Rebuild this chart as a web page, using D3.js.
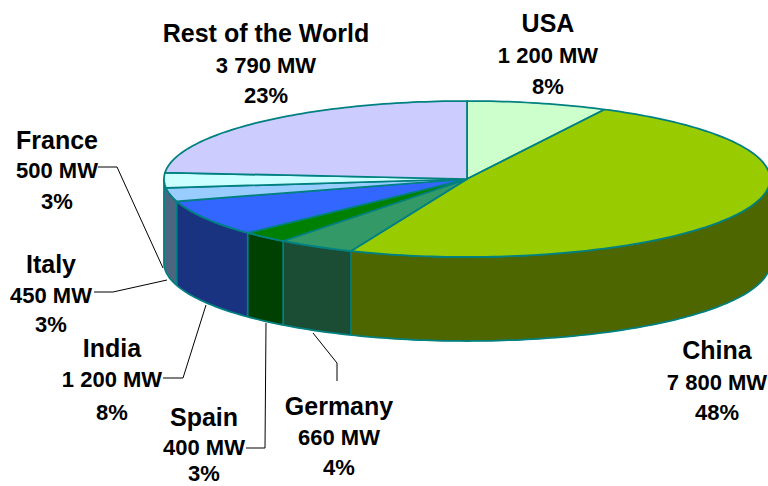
<!DOCTYPE html>
<html lang="en">
<head>
<meta charset="utf-8">
<title>Installed wind power by country</title>
<script src="https://cdn.jsdelivr.net/npm/d3@7"></script>
<style>
  html, body { margin: 0; padding: 0; background: #fff; overflow: hidden; }
  svg { display: block; }
  text { font-family: "Liberation Sans", Arial, sans-serif; font-weight: bold; fill: #000; text-anchor: middle; }
</style>
</head>
<body>
<script>
// data
var countries = ["USA", "China", "Germany", "Spain", "India", "Italy", "France", "Rest of the World"];
var megawatts = [1200, 7800, 660, 400, 1200, 450, 500, 3790];
var mwLabels = ["1 200 MW", "7 800 MW", "660 MW", "400 MW", "1 200 MW", "450 MW", "500 MW", "3 790 MW"];
var percents = ["8%", "48%", "4%", "3%", "8%", "3%", "3%", "23%"];

// colours
var topColors = ["#ccffcc", "#99cc00", "#339966", "#008000", "#3366ff", "#99ccff", "#ccffff", "#ccccff"];
var sideColors = ["#668066", "#4d6600", "#1a4d33", "#004000", "#1a3380", "#4d6680", "#4d6680", "#666680"];

// label layout: centre x, then baseline y of the three lines
var labelPos = [
  [548, 32, 63, 94],
  [717, 359, 390, 420],
  [339, 415, 445, 475],
  [204, 426, 455, 481],
  [112, 357, 387, 420],
  [51, 273, 303, 332],
  [57, 149, 178, 209],
  [266, 42, 73, 103]
];
var leaders = [
  [[98, 167], [117, 167], [163, 268]],
  [[94, 292], [113, 292], [167, 280]],
  [[163, 378], [183, 378], [206, 305]],
  [[246, 448], [265, 448], [266, 323]],
  [[337, 381], [337, 363], [313, 333]]
];

var width = 768, height = 486;
var cx = 467, cy = 179, rx = 303, ry = 78, depth = 84;
var edge = "#008080", edgeWidth = 1.75;

var x = d3.scaleLinear().domain([-1, 1]).range([cx - rx, cx + rx]);
var y = d3.scaleLinear().domain([-1, 1]).range([cy - ry, cy + ry]);

var svg = d3.select("body").append("svg")
  .attr("width", width)
  .attr("height", height);

var slices = d3.pie().sort(null).value(function(d) { return d; })(megawatts);

function rim(angle) {
  return [x(Math.sin(angle)), y(-Math.cos(angle))];
}

function arcPoints(a0, a1) {
  var n = Math.max(2, Math.ceil((a1 - a0) / 0.02));
  return d3.range(n + 1).map(function(i) { return rim(a0 + (a1 - a0) * i / n); });
}

function wallShape(a0, a1) {
  var upper = arcPoints(a0, a1);
  var lower = upper.map(function(p) { return [p[0], p[1] + depth]; }).reverse();
  return upper.concat(lower);
}

var line = d3.line();
var frontStart = Math.PI / 2, frontEnd = Math.PI * 1.5;

// side walls, only the front half of the rim can be seen
var walls = svg.append("g");
slices.forEach(function(s, i) {
  var a0 = Math.max(s.startAngle, frontStart);
  var a1 = Math.min(s.endAngle, frontEnd);
  if (a1 <= a0) return;
  walls.append("path")
    .attr("d", line(wallShape(a0, a1)) + "Z")
    .attr("fill", sideColors[i])
    .attr("stroke", sideColors[i])
    .attr("stroke-width", 0.5);
  // very thin walls get no divider, it would cover them
  if (a1 - a0 >= 0.15 && a0 > frontStart) {
    var p = rim(a0);
    walls.append("path")
      .attr("d", line([p, [p[0], p[1] + depth]]))
      .attr("stroke", edge)
      .attr("stroke-width", edgeWidth);
  }
});

// outline round the whole front
walls.append("path")
  .attr("d", line(wallShape(frontStart, frontEnd)) + "Z")
  .attr("fill", "none")
  .attr("stroke", edge)
  .attr("stroke-width", edgeWidth)
  .attr("stroke-linejoin", "round");

// top of the pie
var tops = svg.append("g");
slices.forEach(function(s, i) {
  var pts = [[x(0), y(0)]].concat(arcPoints(s.startAngle, s.endAngle));
  tops.append("path")
    .attr("d", line(pts) + "Z")
    .attr("fill", topColors[i])
    .attr("stroke", edge)
    .attr("stroke-width", edgeWidth)
    .attr("stroke-linejoin", "round");
});

// leader lines
svg.append("g").selectAll("path")
  .data(leaders)
  .enter()
  .append("path")
  .attr("d", function(d) { return line(d); })
  .attr("fill", "none")
  .attr("stroke", "#000")
  .attr("stroke-width", 1);

// labels
countries.forEach(function(name, i) {
  var pos = labelPos[i];
  var g = svg.append("g");
  g.append("text").attr("x", pos[0]).attr("y", pos[1]).attr("font-size", 25).text(name);
  g.append("text").attr("x", pos[0]).attr("y", pos[2]).attr("font-size", 22).text(mwLabels[i]);
  g.append("text").attr("x", pos[0]).attr("y", pos[3]).attr("font-size", 22).text(percents[i]);
});
</script>
</body>
</html>
